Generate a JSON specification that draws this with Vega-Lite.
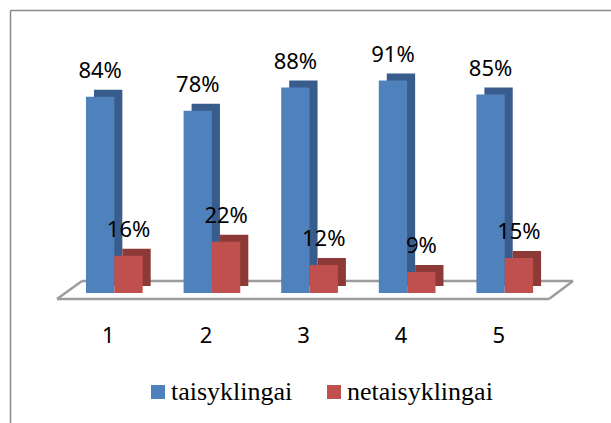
{
  "$schema": "https://vega.github.io/schema/vega-lite/v6.json",
  "width": 601,
  "height": 413,
  "autosize": {"type": "none"},
  "padding": {"left": 10, "top": 10, "right": 0, "bottom": 0},
  "background": "white",
  "config": {
    "view": {"stroke": null}
  },
  "datasets": {
    "bars": [
      {"group": "1", "series": "taisyklingai", "value": 0.84},
      {"group": "1", "series": "netaisyklingai", "value": 0.16},
      {"group": "2", "series": "taisyklingai", "value": 0.78},
      {"group": "2", "series": "netaisyklingai", "value": 0.22},
      {"group": "3", "series": "taisyklingai", "value": 0.88},
      {"group": "3", "series": "netaisyklingai", "value": 0.12},
      {"group": "4", "series": "taisyklingai", "value": 0.91},
      {"group": "4", "series": "netaisyklingai", "value": 0.09},
      {"group": "5", "series": "taisyklingai", "value": 0.85},
      {"group": "5", "series": "netaisyklingai", "value": 0.15}
    ],
    "floor": [{"part": "floor"}]
  },
  "resolve": {"scale": {"x": "independent"}},
  "layer": [
    {
      "data": {"name": "floor"},
      "layer": [
        {
          "mark": {"type": "rule", "color": "#9c9c9c", "strokeWidth": 2.5},
          "encoding": {
            "x": {"datum": 0, "type": "quantitative", "scale": {"domain": [-0.0911, 1.0736], "nice": false, "zero": false},
              "axis": {"orient": "top", "domain": true, "domainColor": "#8a8a8a", "domainWidth": 1.5, "ticks": false, "labels": false, "grid": false, "title": null}},
            "x2": {"datum": 0.9535},
            "y": {"datum": -0.0257, "type": "quantitative", "scale": {"domain": [-0.5567, 1.212], "nice": false, "zero": false},
              "axis": {"orient": "left", "domain": true, "domainColor": "#8a8a8a", "domainWidth": 1.5, "ticks": false, "labels": false, "grid": false, "title": null}},
            "y2": {"datum": -0.0257}
          }
        },
        {
          "mark": {"type": "rule", "color": "#9c9c9c", "strokeWidth": 2.5},
          "encoding": {
            "x": {"datum": 0.0484, "type": "quantitative"},
            "x2": {"datum": 1},
            "y": {"datum": 0.0514, "type": "quantitative"},
            "y2": {"datum": 0.0514}
          }
        },
        {
          "mark": {"type": "rule", "color": "#9c9c9c", "strokeWidth": 2.5},
          "encoding": {
            "x": {"datum": 0, "type": "quantitative"},
            "x2": {"datum": 0.0484},
            "y": {"datum": -0.0257, "type": "quantitative"},
            "y2": {"datum": 0.0514}
          }
        },
        {
          "mark": {"type": "rule", "color": "#9c9c9c", "strokeWidth": 2.5},
          "encoding": {
            "x": {"datum": 0.9535, "type": "quantitative"},
            "x2": {"datum": 1},
            "y": {"datum": -0.0257, "type": "quantitative"},
            "y2": {"datum": 0.0514}
          }
        }
      ]
    },
    {
      "data": {"name": "bars"},
      "resolve": {"scale": {"color": "independent", "xOffset": "independent"}},
      "encoding": {
        "x": {
          "field": "group",
          "type": "nominal",
          "scale": {"paddingInner": 0.419, "paddingOuter": 0.7884, "align": 0.4938},
          "axis": {
            "orient": "bottom",
            "offset": -124,
            "domain": false,
            "ticks": false,
            "tickSize": 0,
            "grid": false,
            "title": null,
            "labelAngle": 0,
            "labelFont": "Noto Sans",
            "labelFontSize": 22,
            "labelColor": "#000000",
            "labelBaseline": "middle",
            "labelPadding": 36,
            "labelOffset": -6
          }
        },
        "y": {
          "field": "value",
          "type": "quantitative",
          "scale": {"domain": [-0.5567, 1.212], "nice": false, "zero": false},
          "axis": {"orient": "left", "domain": true, "domainColor": "#8a8a8a", "domainWidth": 1.5, "ticks": false, "labels": false, "grid": false, "title": null}
        }
      },
      "layer": [
        {
          "mark": {"type": "bar", "yOffset": -7},
          "encoding": {
            "xOffset": {"field": "series", "type": "nominal", "sort": ["taisyklingai", "netaisyklingai"], "scale": {"range": [8, 64.7]}},
            "color": {
              "field": "series",
              "type": "nominal",
              "scale": {"domain": ["taisyklingai", "netaisyklingai"], "range": ["#385C8B", "#8C3937"]},
              "legend": null
            }
          }
        },
        {
          "mark": {"type": "bar"},
          "encoding": {
            "xOffset": {"field": "series", "type": "nominal", "sort": ["taisyklingai", "netaisyklingai"]},
            "color": {
              "field": "series",
              "type": "nominal",
              "scale": {"domain": ["taisyklingai", "netaisyklingai"], "range": ["#4F81BD", "#C0504D"]},
              "legend": {
                "orient": "none",
                "legendX": 135,
                "legendY": 369,
                "direction": "horizontal",
                "title": null,
                "symbolType": "square",
                "symbolSize": 196,
                "symbolStrokeWidth": 0,
                "labelFont": "Liberation Serif",
                "labelFontSize": 26,
                "labelColor": "#000000",
                "labelOffset": 0,
                "columnPadding": 28,
                "padding": 0,
                "labelLimit": 300
              }
            }
          }
        },
        {
          "mark": {"type": "text", "font": "Noto Sans", "fontSize": 22, "color": "#000000", "baseline": "alphabetic", "dy": -19},
          "encoding": {
            "xOffset": {"field": "series", "type": "nominal", "sort": ["taisyklingai", "netaisyklingai"]},
            "text": {"field": "value", "type": "quantitative", "format": ".0%"}
          }
        }
      ]
    }
  ]
}
